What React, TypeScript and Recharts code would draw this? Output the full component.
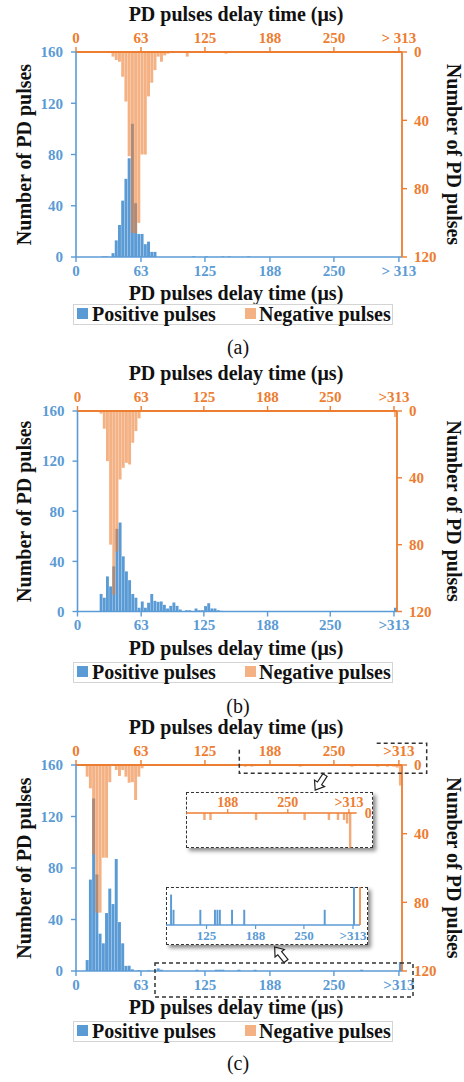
import React from "react";
import { Bar, BarChart, XAxis, YAxis } from "recharts";

const BLUE = "#5B9BD5";
const ORANGE = "#ED7D31";
const FONT = '"Liberation Serif", "Times New Roman", serif';

// 100 bins of 3.13 us over 0..313 us, bin 100 holds everything above 313 us
const BIN_US = 3.13;
const BIN_COUNT = 101;
const X_MAX = 316;
const xTicks = [0, 63, 125, 188, 250, 313];
const leftTicks = [0, 40, 80, 120, 160];
const rightTicks = [0, 40, 80, 120];
const insetTicksTop = [188, 250, 313];
const insetTicksBottom = [125, 188, 250, 313];

const X_TITLE = "PD pulses delay time (μs)";
const Y_TITLE = "Number of PD pulses";
const SERIES = ["Positive pulses", "Negative pulses"];

// [bin, count]
type Pair = [number, number];

const posA: Pair[] = [
  [8, 0.5], [9, 0.5], [11, 3], [12, 13], [13, 25], [14, 44], [15, 61], [16, 77],
  [17, 104], [18, 42], [19, 18], [20, 18], [21, 10], [22, 12], [23, 4], [24, 4],
  [36, 0.6], [40, 0.6], [45, 0.5], [47, 0.5], [53, 0.5],
];
const negA: Pair[] = [
  [11, 2.7], [12, 4.7], [13, 5.7], [14, 14.5], [15, 29], [16, 61], [17, 106],
  [18, 106], [19, 100], [20, 60], [21, 60], [22, 26], [23, 18], [24, 10.6],
  [25, 2.7], [26, 5.7], [27, 2], [28, 1], [34, 2.7], [46, 1],
];

const posB: Pair[] = [
  [7, 14], [8, 11], [9, 28], [10, 20], [11, 36], [12, 66], [13, 71], [14, 44],
  [15, 32], [16, 25], [17, 14], [18, 11], [19, 3], [20, 8], [21, 3], [22, 7],
  [23, 14], [24, 8.5], [25, 7.7], [26, 8], [27, 5.3], [28, 2.4], [29, 4.5],
  [30, 7.2], [31, 4.5], [32, 1.6], [34, 1], [35, 1], [37, 2.4], [38, 1], [39, 1],
  [40, 4.3], [41, 6.6], [42, 2.4], [43, 2.4], [44, 1], [45, 0.5], [100, 3],
];
const negB: Pair[] = [
  [7, 1.6], [8, 10.6], [9, 30], [10, 80], [11, 110], [12, 84], [13, 41], [14, 34],
  [15, 31], [16, 32], [17, 19], [18, 12], [19, 4.4], [100, 3.6],
];

const posC: Pair[] = [
  [3, 8.5], [4, 71], [5, 134], [6, 75], [7, 29], [8, 21.5], [9, 45], [10, 64],
  [11, 52], [12, 87], [13, 38], [14, 21.5], [15, 4], [16, 4], [17, 1.3], [19, 0.8],
  [22, 0.5], [25, 2], [26, 1], [37, 1], [43, 1], [44, 1], [45, 1], [50, 1], [55, 1],
  [88, 1], [100, 7],
];
const negC: Pair[] = [
  [3, 6.8], [4, 13.6], [5, 52], [6, 86], [7, 86], [8, 54], [9, 54], [10, 10],
  [12, 2.9], [13, 6.4], [14, 2.9], [15, 6.8], [16, 10.3], [17, 10], [18, 20.4],
  [19, 6.8], [20, 1.9], [52, 1], [54, 1], [69, 1], [85, 1], [93, 1], [96, 1],
  [98, 1], [99, 1.5], [100, 12],
];

function buildRows(pos: Pair[], neg: Pair[]) {
  const p = new Map(pos);
  const n = new Map(neg);
  return Array.from({ length: BIN_COUNT }, (_, i) => ({
    us: (i + 0.5) * BIN_US,
    pos: p.has(i) ? p.get(i) : null,
    neg: n.has(i) ? n.get(i) : null,
  }));
}

const rowsA = buildRows(posA, negA);
const rowsB = buildRows(posB, negB);
const rowsC = buildRows(posC, negC);

const TOP_H = 52;
const BOTTOM_H = 55;

const tickFont = { fontSize: 15, fontWeight: 700, fontFamily: FONT };

interface PanelSpec {
  rows: ReturnType<typeof buildRows>;
  plotTop: number;
  plotH: number;
  left: number;
  right: number;
  tail: string;
  legendMid: number;
  captionMid: number;
  caption: string;
}

const panels: PanelSpec[] = [
  { rows: rowsA, plotTop: 52, plotH: 205, left: 76, right: 402, tail: "> 313", legendMid: 314, captionMid: 347, caption: "(a)" },
  { rows: rowsB, plotTop: 410.5, plotH: 200.5, left: 77.5, right: 397, tail: ">313", legendMid: 672, captionMid: 706, caption: "(b)" },
  { rows: rowsC, plotTop: 765, plotH: 206, left: 76, right: 402, tail: ">313", legendMid: 1031, captionMid: 1063, caption: "(c)" },
];

function titleText(x: number, y: number, rotate = 0) {
  return (
    <text
      x={x}
      y={y}
      textAnchor="middle"
      transform={rotate ? `rotate(${rotate} ${x} ${y})` : undefined}
      fontFamily={FONT}
      fontSize={20}
      fontWeight={700}
      fill="#111"
    >
      {rotate ? Y_TITLE : X_TITLE}
    </text>
  );
}

function MainPanel({ spec }: { spec: PanelSpec }) {
  const { rows, plotTop, plotH, left, right, tail } = spec;
  const plotW = right - left;
  const barSize = ((BIN_US * plotW) / X_MAX) * 0.92;
  const midY = TOP_H + plotH / 2;
  const fmt = (v: number) => (v === 313 ? tail : String(v));
  return (
    <div style={{ position: "absolute", left: 0, top: plotTop - TOP_H }}>
      <BarChart
        width={464}
        height={TOP_H + plotH + BOTTOM_H}
        data={rows}
        margin={{ top: 0, right: 0, bottom: 0, left: 0 }}
      >
        <XAxis
          xAxisId="bottom"
          dataKey="us"
          type="number"
          domain={[0, X_MAX]}
          ticks={xTicks}
          interval={0}
          height={BOTTOM_H}
          tickFormatter={fmt}
          tick={{ ...tickFont, fill: BLUE }}
          axisLine={{ stroke: BLUE, strokeWidth: 1.6 }}
          tickLine={{ stroke: BLUE, strokeWidth: 1.4 }}
          tickSize={5}
          tickMargin={3}
          label={() => titleText(236, TOP_H + plotH + 43)}
        />
        <XAxis
          xAxisId="top"
          orientation="top"
          dataKey="us"
          type="number"
          domain={[0, X_MAX]}
          ticks={xTicks}
          interval={0}
          height={TOP_H}
          tickFormatter={fmt}
          tick={{ ...tickFont, fill: ORANGE }}
          axisLine={{ stroke: ORANGE, strokeWidth: 1.8 }}
          tickLine={{ stroke: ORANGE, strokeWidth: 1.4 }}
          tickSize={5}
          tickMargin={4}
          label={() => titleText(236, 21)}
        />
        <YAxis
          yAxisId="left"
          domain={[0, 160]}
          ticks={leftTicks}
          interval={0}
          width={left}
          tick={{ ...tickFont, fill: BLUE }}
          axisLine={{ stroke: BLUE, strokeWidth: 1.6 }}
          tickLine={{ stroke: BLUE, strokeWidth: 1.4 }}
          tickSize={5}
          tickMargin={8}
          label={() => titleText(30.5, midY, -90)}
        />
        <YAxis
          yAxisId="right"
          orientation="right"
          reversed
          domain={[0, 120]}
          ticks={rightTicks}
          interval={0}
          width={464 - right}
          tick={{ ...tickFont, fill: ORANGE }}
          axisLine={{ stroke: ORANGE, strokeWidth: 1.8 }}
          tickLine={{ stroke: ORANGE, strokeWidth: 1.4 }}
          tickSize={5}
          tickMargin={7}
          label={() => titleText(446.5, midY, 90)}
        />
        <Bar
          xAxisId="bottom"
          yAxisId="left"
          dataKey="pos"
          name={SERIES[0]}
          fill={BLUE}
          barSize={barSize}
          isAnimationActive={false}
        />
        <Bar
          xAxisId="top"
          yAxisId="right"
          dataKey="neg"
          name={SERIES[1]}
          fill={ORANGE}
          fillOpacity={0.6}
          barSize={barSize}
          isAnimationActive={false}
        />
      </BarChart>
    </div>
  );
}

function LegendBox({ mid }: { mid: number }) {
  const text: React.CSSProperties = { position: "absolute", top: 0, whiteSpace: "nowrap" };
  const icon: React.CSSProperties = { position: "absolute", top: 3.5, width: 11, height: 11 };
  return (
    <div
      style={{
        position: "absolute",
        left: 73,
        top: mid - 10.5,
        width: 320,
        height: 21,
        border: "1px solid #d4d4d4",
        boxSizing: "border-box",
        fontFamily: FONT,
        fontWeight: 700,
        fontSize: 20,
        lineHeight: "19px",
        color: "#111",
      }}
    >
      <span style={{ ...icon, left: 3, background: BLUE }} />
      <span style={{ ...text, left: 18 }}>{SERIES[0]}</span>
      <span style={{ ...icon, left: 171, background: ORANGE, opacity: 0.6 }} />
      <span style={{ ...text, left: 185 }}>{SERIES[1]}</span>
    </div>
  );
}

const insetBox: React.CSSProperties = {
  position: "absolute",
  border: "1.5px dashed #333",
  background: "#fff",
  boxSizing: "border-box",
  boxShadow: "3px 3px 4px rgba(0,0,0,0.45)",
};

function NegInset() {
  const domain: [number, number] = [145, 321];
  const data = rowsC.filter((r) => r.us >= domain[0] && r.us <= domain[1]);
  const plotW = 170.7;
  const barSize = ((BIN_US * plotW) / (domain[1] - domain[0])) * 0.8;
  return (
    <div style={{ ...insetBox, left: 186, top: 792, width: 187, height: 56 }}>
      <div style={{ position: "absolute", left: -1.5, top: -1.5 }}>
        <BarChart width={187} height={56} data={data} margin={{ top: 0, right: 0, bottom: 0, left: 0 }}>
          <XAxis
            xAxisId="top"
            orientation="top"
            dataKey="us"
            type="number"
            domain={domain}
            ticks={insetTicksTop}
            interval={0}
            height={21}
            tickFormatter={(v: number) => (v === 313 ? ">313" : String(v))}
            tick={{ fontSize: 14, fontWeight: 700, fontFamily: FONT, fill: ORANGE }}
            axisLine={{ stroke: ORANGE, strokeWidth: 1.6 }}
            tickLine={{ stroke: ORANGE, strokeWidth: 1.2 }}
            tickSize={4}
            tickMargin={2}
          />
          <YAxis
            yAxisId="right"
            orientation="right"
            reversed
            domain={[0, 5]}
            allowDataOverflow
            ticks={[0]}
            width={187 - plotW}
            tick={{ fontSize: 14, fontWeight: 700, fontFamily: FONT, fill: ORANGE }}
            axisLine={false}
            tickLine={false}
            tickSize={4}
            tickMargin={4}
          />
          <Bar
            xAxisId="top"
            yAxisId="right"
            dataKey="neg"
            fill={ORANGE}
            fillOpacity={0.65}
            barSize={barSize}
            isAnimationActive={false}
          />
        </BarChart>
      </div>
    </div>
  );
}

function PosInset() {
  const domain: [number, number] = [73, 322];
  const data = rowsC.filter((r) => r.us >= domain[0] && r.us <= domain[1]);
  const plotW = 194;
  const barSize = ((BIN_US * plotW) / (domain[1] - domain[0])) * 0.8;
  return (
    <div style={{ ...insetBox, left: 166, top: 887, width: 202, height: 58 }}>
      <div style={{ position: "absolute", left: -1.5, top: -1.5 }}>
        <BarChart width={202} height={58} data={data} margin={{ top: 0, right: 0, bottom: 0, left: 0 }}>
          <XAxis
            xAxisId="bottom"
            dataKey="us"
            type="number"
            domain={domain}
            ticks={insetTicksBottom}
            interval={0}
            height={20}
            tickFormatter={(v: number) => (v === 313 ? ">313" : String(v))}
            tick={{ fontSize: 13, fontWeight: 700, fontFamily: FONT, fill: BLUE }}
            axisLine={{ stroke: BLUE, strokeWidth: 1.6 }}
            tickLine={{ stroke: BLUE, strokeWidth: 1.2 }}
            tickSize={4}
            tickMargin={2}
          />
          <YAxis yAxisId="left" hide domain={[0, 2.5]} allowDataOverflow />
          <YAxis
            yAxisId="right"
            orientation="right"
            domain={[0, 1]}
            width={202 - plotW}
            tick={false}
            tickLine={false}
            axisLine={{ stroke: ORANGE, strokeWidth: 1.6 }}
          />
          <Bar
            xAxisId="bottom"
            yAxisId="left"
            dataKey="pos"
            fill={BLUE}
            barSize={barSize}
            isAnimationActive={false}
          />
        </BarChart>
      </div>
    </div>
  );
}

function HollowArrow({ x, y, angle }: { x: number; y: number; angle: number }) {
  return (
    <polygon
      points="-2.5,0 2.5,0 2.5,10 6,10 0,18 -6,10 -2.5,10"
      transform={`translate(${x} ${y}) rotate(${angle})`}
      fill="#fff"
      stroke="#222"
      strokeWidth={1.2}
      strokeLinejoin="miter"
    />
  );
}

function Overlay() {
  const dash = { fill: "none", stroke: "#333", strokeWidth: 1.5, strokeDasharray: "4 3" };
  return (
    <svg width={464} height={1082} style={{ position: "absolute", left: 0, top: 0, pointerEvents: "none" }}>
      <path d="M376.7 743.3 H426.7 V773.3 H239.3 V746.7" {...dash} />
      <rect x={155} y={963} width={258} height={34} {...dash} />
      <HollowArrow x={325} y={775} angle={33} />
      <HollowArrow x={286} y={961} angle={141} />
    </svg>
  );
}

export default function App() {
  return (
    <div style={{ position: "relative", width: 464, height: 1082, background: "#fff", overflow: "hidden" }}>
      <style>{"body{margin:0}"}</style>
      {panels.map((p) => (
        <React.Fragment key={p.caption}>
          <MainPanel spec={p} />
          <LegendBox mid={p.legendMid} />
          <div
            style={{
              position: "absolute",
              left: 188,
              width: 100,
              top: p.captionMid - 12,
              textAlign: "center",
              fontFamily: FONT,
              fontSize: 20,
              lineHeight: "24px",
              color: "#111",
            }}
          >
            {p.caption}
          </div>
        </React.Fragment>
      ))}
      <Overlay />
      <NegInset />
      <PosInset />
    </div>
  );
}
